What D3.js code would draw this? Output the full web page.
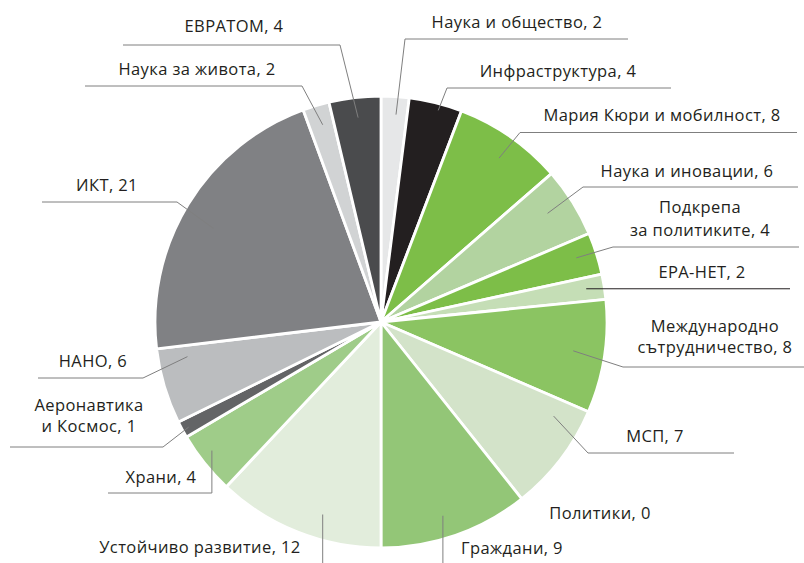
<!DOCTYPE html>
<html>
<head>
<meta charset="utf-8">
<script src="https://cdn.jsdelivr.net/npm/d3@7"></script>
<style>
  html, body { margin: 0; padding: 0; background: #fff; }
  svg { display: block; }
</style>
</head>
<body>
<script>
// Categories in drawing order (clockwise from 12 o'clock)
const categories = [
    "Наука и общество", "Инфраструктура", "Мария Кюри и мобилност", "Наука и иновации",
    "Подкрепа за политиките", "ЕРА-НЕТ", "Международно сътрудничество", "МСП",
    "Политики", "Граждани", "Устойчиво развитие", "Храни", "Аеронавтика и Космос",
    "НАНО", "ИКТ", "Наука за живота", "ЕВРАТОМ"
];

// numbers printed in the labels
const counts = [2, 4, 8, 6, 4, 2, 8, 7, 0, 9, 12, 4, 1, 6, 21, 2, 4];

// slice sizes (%) -- they don't follow the printed numbers exactly
const shares = [2.0, 3.8, 7.8, 5.0, 3.0, 1.8, 8.1, 7.8, 0, 10.7, 12.0, 4.5, 1.2, 5.4, 21.3, 1.9, 3.7];

const colors = [
    "#e6e7e8", "#231f20", "#7dbe48", "#b2d3a0", "#7dbe48", "#c5deb6", "#8bc462", "#d3e3c9",
    "#d3e3c9", "#93c677", "#e2eddc", "#9fcc89", "#636466", "#bbbdbf", "#808184", "#d1d3d4", "#4a4b4d"
];

// label placement: t = position inside the slice (0..1 of its angle), r = radius fraction,
// pts = rest of the leader (null = same as previous point), tx/ty = text centre / first baseline
const labelLayout = [
    { t: 0.575, r: 0.92, pts: [[405, 39], [628, 39]], tx: 517, ty: 28 },
    { t: 0.58, r: 0.97, pts: [[447, 88], [671, 88]], tx: 558, ty: 77 },
    { t: 0.53, r: 0.894, pts: [[520, 132.5], [797, 132.5]], tx: 662, ty: 121 },
    { t: 0.44, r: 0.88, pts: [[583, 187], [798, 187]], tx: 687, ty: 177 },
    { t: 0.45, r: 0.91, pts: [[613, 247], [799, 247]], tx: 700, ty: 213, wrap: true, lh: 23 },
    { t: 0.47, r: 0.92, pts: [[790, null]], tx: 702, ty: 278, dark: true },
    { t: 0.49, r: 0.86, pts: [[623, 367], [804, 367]], tx: 715, ty: 332, wrap: true, lh: 21 },
    { t: 0.185, r: 0.87, pts: [[588, 453], [734, 453]], tx: 655, ty: 442 },
    { tx: 600, ty: 519 },
    { t: 0.54, r: 0.90, pts: [[null, 563]], tx: 512, ty: 554 },
    { t: 0.39, r: 0.89, pts: [[null, 563]], tx: 200, ty: 553 },
    { t: 0.59, r: 0.94, pts: [[null, 493], [108, null]], tx: 161, ty: 483 },
    { t: 0.45, r: 0.97, pts: [[163, 447], [10, 447]], tx: 89, ty: 411, wrap: true, lh: 21 },
    { t: 0.83, r: 0.87, pts: [[143, 378], [38, 378]], tx: 93, ty: 367 },
    { t: 0.47, r: 0.85, pts: [[177, 202], [42, 202]], tx: 107, ty: 191 },
    { t: 0.54, r: 0.91, pts: [[302, 86], [85, 86]], tx: 197, ty: 75 },
    { t: 0.52, r: 0.91, pts: [[340, 45], [123, 45]], tx: 234, ty: 32 }
];

const width = 804;
const height = 563;
const cx = 381, cy = 322;
const radius = 226;

const svg = d3.select("body").append("svg")
    .attr("width", width)
    .attr("height", height)
    .style("font", "16.5px 'Open Sans', 'Noto Sans', sans-serif")
    .style("letter-spacing", "0.4px");

const data = categories.map((name, i) => ({ name, count: counts[i], share: shares[i], color: colors[i], lay: labelLayout[i] }));

const pie = d3.pie()
    .sort(null)
    .value(d => d.share);

const arc = d3.arc()
    .innerRadius(0)
    .outerRadius(radius);

const arcs = pie(data);

const g = svg.append("g")
    .attr("transform", `translate(${cx},${cy})`);

// slices
g.selectAll("path")
    .data(arcs.filter(d => d.data.share > 0))
    .join("path")
    .attr("d", arc)
    .attr("fill", d => d.data.color)
    .attr("stroke", "#fff")
    .attr("stroke-width", 2.8)
    .attr("stroke-linejoin", "round");

// leader lines -- start point sits inside its slice
function leaderPoints(d) {
    const lay = d.data.lay;
    const a = d.startAngle + (d.endAngle - d.startAngle) * lay.t;
    const r = radius * lay.r;
    let prev = [cx + r * Math.sin(a), cy - r * Math.cos(a)];
    const pts = [prev];
    lay.pts.forEach(p => {
        const q = [p[0] == null ? prev[0] : p[0], p[1] == null ? prev[1] : p[1]];
        pts.push(q);
        prev = q;
    });
    return pts;
}

svg.append("g")
    .attr("fill", "none")
    .selectAll("path")
    .data(arcs.filter(d => d.data.lay.pts))
    .join("path")
    .attr("stroke", d => d.data.lay.dark ? "#231f20" : "#7f7f7f")
    .attr("stroke-width", 1)
    .attr("d", d => d3.line()(leaderPoints(d)));

// labels
const label = svg.append("g")
    .attr("fill", "#231f20")
    .attr("text-anchor", "middle")
    .selectAll("text")
    .data(arcs)
    .join("text")
    .attr("x", d => d.data.lay.tx)
    .attr("y", d => d.data.lay.ty);

label.each(function (d) {
    const txt = `${d.data.name}, ${d.data.count}`;
    const el = d3.select(this);
    if (d.data.lay.wrap) {
        const k = txt.indexOf(" ");
        el.append("tspan").attr("x", d.data.lay.tx).text(txt.slice(0, k));
        el.append("tspan").attr("x", d.data.lay.tx).attr("dy", d.data.lay.lh).text(txt.slice(k + 1));
    } else {
        el.text(txt);
    }
});
</script>
</body>
</html>
